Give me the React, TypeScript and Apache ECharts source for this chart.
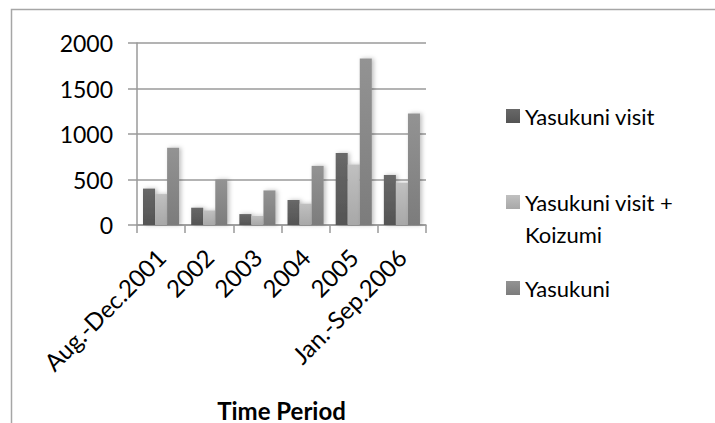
import React, { useEffect, useRef } from "react";
import * as echarts from "echarts";

const categories = ["Aug.-Dec.2001", "2002", "2003", "2004", "2005", "Jan.-Sep.2006"];
const seriesNames = ["Yasukuni visit", "Yasukuni visit + Koizumi", "Yasukuni"];
const visitValues = [400, 190, 120, 275, 790, 550];
const visitKoizumiValues = [340, 160, 100, 235, 665, 465];
const yasukuniValues = [850, 500, 380, 650, 1830, 1225];
const axisTitle = "Time Period";

const FONT = "Lato, 'Open Sans', sans-serif";

function grad(top: string, bottom: string) {
  return new echarts.graphic.LinearGradient(0, 0, 0, 1, [
    { offset: 0, color: top },
    { offset: 1, color: bottom },
  ]);
}

export default function App() {
  const ref = useRef<HTMLDivElement>(null);
  useEffect(() => {
    if (!ref.current) return;
    const chart = echarts.init(ref.current, undefined, { renderer: "svg" });
    const colors = [
      grad("#686868", "#545454"),
      grad("#c0c0c0", "#a8a8a8"),
      grad("#939393", "#7c7c7c"),
    ];
    const values = [visitValues, visitKoizumiValues, yasukuniValues];
    const legendText = { fontFamily: FONT, fontSize: 22, color: "#000", lineHeight: 32 };
    const legendTops = [100, 154, 272];
    const option: any = {
      animation: false,
      backgroundColor: "#fff",
      grid: { left: 137, right: 289, top: 43, bottom: 188 },
      legend: seriesNames.map((n, i) => ({
        data: [n],
        left: 506,
        top: legendTops[i],
        padding: 0,
        itemWidth: 14,
        itemHeight: 14,
        itemGap: 0,
        icon: "rect",
        selectedMode: false,
        formatter: (name: string) =>
          name === "Yasukuni visit + Koizumi" ? "\nYasukuni visit +\nKoizumi" : name,
        textStyle: legendText,
      })),
      xAxis: {
        type: "category",
        data: categories,
        name: axisTitle,
        nameLocation: "middle",
        nameGap: 173,
        nameTextStyle: { fontFamily: FONT, fontSize: 24, fontWeight: "bold", color: "#000" },
        axisLine: { lineStyle: { color: "#9a9a9a", width: 1.5 } },
        axisTick: { show: true, length: 8, lineStyle: { color: "#9a9a9a", width: 1.5 } },
        axisLabel: {
          rotate: 45,
          margin: 28,
          fontFamily: FONT,
          fontSize: 24,
          color: "#000",
          interval: 0,
        },
      },
      yAxis: {
        type: "value",
        min: 0,
        max: 2000,
        interval: 500,
        axisLine: { show: true, lineStyle: { color: "#9a9a9a", width: 1.5 } },
        axisTick: { show: true, length: 9, lineStyle: { color: "#9a9a9a", width: 1.5 } },
        splitLine: { lineStyle: { color: "#9a9a9a", width: 1.5 } },
        axisLabel: {
          margin: 24,
          fontFamily: FONT,
          fontSize: 23,
          color: "#000",
          formatter: (v: number) => String(v),
        },
      },
      series: seriesNames.map((n, i) => ({
        name: n,
        type: "bar",
        data: values[i],
        barGap: "0%",
        barCategoryGap: "25%",
        itemStyle: {
          color: colors[i],
          shadowColor: "rgba(0,0,0,0.25)",
          shadowBlur: 4,
          shadowOffsetX: 2,
          shadowOffsetY: 0,
        },
      })),
      graphic: [
        {
          type: "rect",
          shape: { x: 11.5, y: 9.5, width: 900, height: 600 },
          style: { fill: "none", stroke: "#a6a6a6", lineWidth: 1.5 },
          silent: true,
          z: -10,
        },
      ],
    };
    chart.setOption(option);
    return () => chart.dispose();
  }, []);
  return (
    <div
      ref={ref}
      style={{ position: "fixed", left: 0, top: 0, width: 715, height: 423 }}
    />
  );
}
